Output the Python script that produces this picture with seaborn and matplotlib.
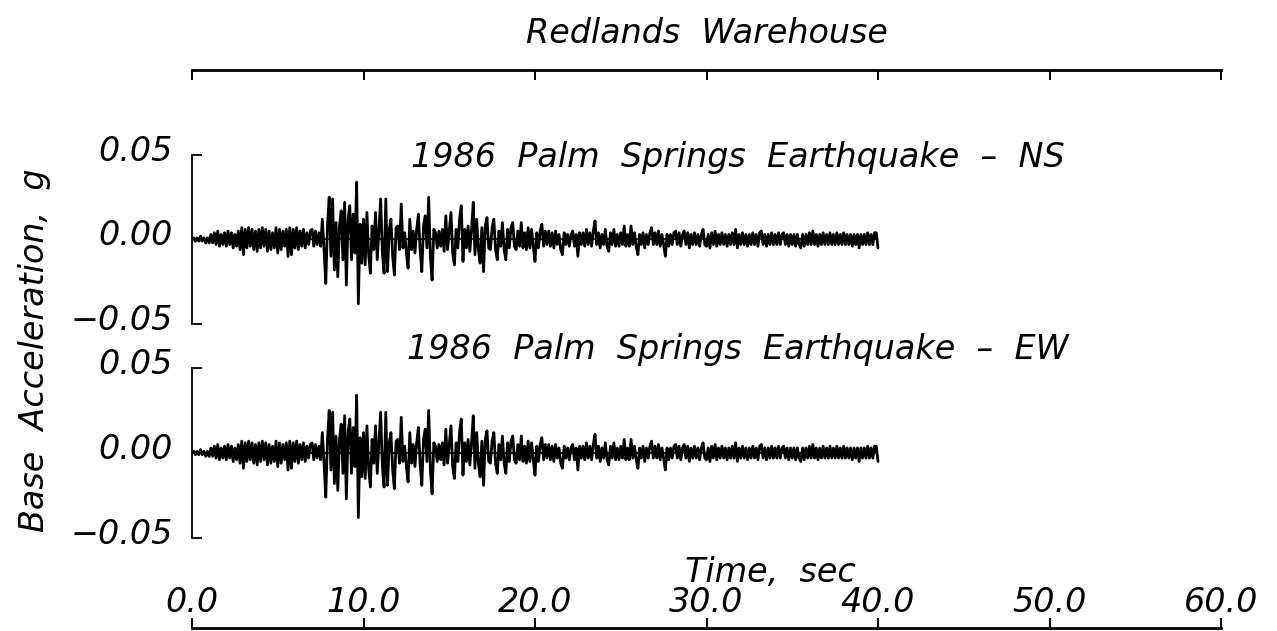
import numpy as np
import matplotlib
matplotlib.use("Agg")
import matplotlib.pyplot as plt
import matplotlib.transforms as mtransforms
import seaborn as sns

# base acceleration, in milli-g, one value every 0.1 s (0 - 40 s)
accel_ns_mg = [
    0, 1, -1, 1, -1, 2, -1, 1, -2, 1,
    -2, 3, -2, 4, -3, 5, -4, 3, -3, 4,
    -4, 5, -3, 4, -5, 3, -4, 5, -6, 7,
    -9, 6, -5, 7, -4, 6, -6, 5, -7, 6,
    -5, 7, -4, 6, -7, 5, -6, 4, -5, 7,
    -8, 6, -6, 5, -4, 6, -10, 7, -9, 6,
    -5, 7, -6, 5, -4, 6, -5, 4, -3, 5,
    6, -4, 5, -3, 4, -4, 12, -6, -26, 8,
    25, -10, 24, -18, 10, -22, 8, 17, -12, 22,
    -27, 12, 20, -12, 15, -8, 34, -38, 9, -14,
    12, -15, 16, -9, -20, 8, -6, 16, -12, 6,
    24, -8, -20, 24, -19, 6, 12, -10, -21, 7,
    8, -6, 21, -5, 4, -8, -17, 12, -6, 5,
    -8, 6, 15, -6, -19, 8, 14, -5, 25, -10,
    -24, 6, 4, -5, 5, -4, 6, -7, 14, -6,
    5, 16, -8, -15, 6, -5, 12, 20, -13, 6,
    -5, 8, -7, 6, 22, -9, 12, -6, -14, 7,
    -19, 8, 13, -5, -6, 7, 12, -6, -12, 5,
    -4, 10, -6, -12, 6, -5, 7, 10, -4, -6,
    5, -4, 10, -5, 4, -6, 7, -5, 6, -4,
    -13, 4, -5, 5, 9, -4, 5, -3, 5, -4,
    4, -5, 5, -3, 3, -6, -9, 4, -3, 3,
    -4, 3, 5, -4, 3, -10, 4, -3, 4, -4,
    6, -3, 4, -4, 5, 11, -3, 4, -5, 3,
    -3, 6, -4, -7, 4, -3, 6, -4, 3, -4,
    4, -3, 8, -4, 3, -4, 8, -3, 4, -4,
    -9, 3, -3, 4, -5, 3, -3, 4, 7, -3,
    4, -3, 5, -4, 3, -3, -10, 3, -4, 3,
    -3, 4, 5, -3, 4, -4, 3, 5, -3, 4,
    -5, 3, -3, 4, -3, 3, -4, 3, 6, -3,
    -4, 3, -5, 4, -3, 5, -4, 3, -3, 4,
    -3, 3, -4, 3, -3, 4, -3, 6, -5, 3,
    -3, 4, -3, 3, -4, 3, -3, 4, -3, 3,
    -4, 4, 5, -3, 3, -4, 3, -3, 4, -3,
    3, -3, 4, -3, 3, 4, -3, 3, -4, 3,
    -3, 3, -4, 3, -3, -5, 3, -4, 3, -3,
    4, -3, 5, -3, 3, -4, 3, -3, 4, -3,
    3, -3, 4, -3, 3, -3, 4, -3, 3, -3,
    4, -3, 3, -3, 3, -4, 3, -3, 3, -5,
    3, -3, 3, -3, 4, -3, 3, -3, 4, 4,
    -5,
]
# the EW trace in the figure is drawn with the same record
accel_ew_mg = list(accel_ns_mg)

time_s = np.arange(len(accel_ns_mg)) * 0.1
accel_ns = np.array(accel_ns_mg) / 1000.0
accel_ew = np.array(accel_ew_mg) / 1000.0

x_ticks = [0, 10, 20, 30, 40, 50, 60]
x_tick_labels = ["0.0", "10.0", "20.0", "30.0", "40.0", "50.0", "60.0"]
y_ticks = [-0.05, 0.0, 0.05]
y_tick_labels = ["\u22120.05", "0.00", "0.05"]
panel_titles = ["1986  Palm  Springs  Earthquake  \u2013  NS",
                "1986  Palm  Springs  Earthquake  \u2013  EW"]

sns.set_style("white")
plt.rcParams["font.family"] = ["DejaVu Sans"]
plt.rcParams["font.style"] = "italic"
plt.rcParams["text.color"] = "black"

W, H = 1277, 631
FS = 24


def rect(x0, y0, x1, y1):
    return [x0 / W, 1 - y1 / H, (x1 - x0) / W, (y1 - y0) / H]


fig = plt.figure(figsize=(W / 100, H / 100), dpi=100)
fig.patch.set_facecolor("white")

# outer frame carrying the time axis (top and bottom lines)
frame = fig.add_axes(rect(192, 70, 1221, 628))
frame.patch.set_alpha(0)
frame.set_xlim(0, 60)
frame.set_ylim(0, 1)
for side in ["left", "right"]:
    frame.spines[side].set_visible(False)
for side in ["top", "bottom"]:
    frame.spines[side].set_linewidth(2.0)
    frame.spines[side].set_color("black")
frame.set_yticks([])
frame.set_xticks(x_ticks)
frame.set_xticklabels(x_tick_labels)
frame.tick_params(axis="x", direction="in", top=True, bottom=True,
                  length=7, width=1.4, labelsize=FS, pad=-30, colors="black")
frame.text(33.7, 0.10, "Time,  sec", fontsize=FS, ha="center", va="center")
frame.text(30, 1.066, "Redlands  Warehouse", fontsize=FS, ha="center",
           va="center", clip_on=False)

panels = [
    (rect(192, 155, 1221, 324), accel_ns, panel_titles[0], 0.0488),
    (rect(192, 368, 1221, 538), accel_ew, panel_titles[1], 0.0606),
]
lift = mtransforms.ScaledTranslation(0, 7 / 100, fig.dpi_scale_trans)
for box, acc, title, title_y in panels:
    ax = fig.add_axes(box)
    ax.patch.set_alpha(0)
    ax.set_xlim(0, 60)
    ax.set_ylim(-0.05, 0.05)
    ax.hlines(0, time_s[0], time_s[-1], color="black", lw=1.2)
    sns.lineplot(x=time_s, y=acc, ax=ax, color="black", lw=2.0,
                 estimator=None, sort=False)
    for side in ["top", "right", "bottom"]:
        ax.spines[side].set_visible(False)
    ax.spines["left"].set_linewidth(1.3)
    ax.spines["left"].set_color("black")
    ax.set_xticks([])
    ax.set_yticks(y_ticks)
    ax.set_yticklabels(y_tick_labels)
    ax.tick_params(axis="y", left=True, direction="in", length=7, width=1.3,
                   labelsize=FS, pad=14, colors="black")
    for lab in ax.get_yticklabels():
        lab.set_transform(lab.get_transform() + lift)
    ax.set_xlabel("")
    ax.set_ylabel("")
    ax.text(31.8, title_y, title, fontsize=FS, ha="center", va="center",
            clip_on=False)

fig.text(35 / W, 1 - 350 / H, "Base  Acceleration,  g", fontsize=FS,
         rotation=90, ha="center", va="center")

fig.savefig("out.png", dpi=100)
